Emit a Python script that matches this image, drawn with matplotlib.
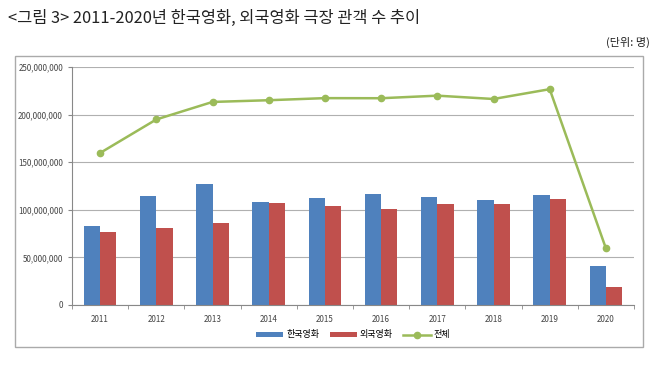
import numpy as np
import matplotlib.pyplot as plt
from matplotlib.patches import Rectangle
from matplotlib.ticker import FuncFormatter

plt.rcParams['font.family'] = ['Noto Sans CJK KR', 'DejaVu Sans']

years = ['2011', '2012', '2013', '2014', '2015', '2016', '2017', '2018', '2019', '2020']
korean = [82.9, 114.6, 127.2, 107.7, 112.9, 116.6, 113.9, 110.2, 115.6, 40.5]
foreign = [77.1, 80.9, 86.1, 107.4, 104.4, 100.6, 105.9, 106.1, 111.1, 19.0]
total = [159.7, 194.9, 213.3, 215.1, 217.3, 217.2, 219.9, 216.4, 226.7, 59.5]

kor = np.array(korean) * 1e6
fgn = np.array(foreign) * 1e6
tot = np.array(total) * 1e6
x = np.arange(len(years))

fig = plt.figure(figsize=(6.6, 3.65), dpi=100)
fig.text(8/660, 1 - 18/365, '<그림 3> 2011-2020년 한국영화, 외국영화 극장 관객 수 추이',
         fontsize=11.8, va='center', ha='left', color='#222222')
fig.text(650/660, 1 - 42/365, '(단위: 명)', fontsize=8, va='center', ha='right', color='#222222')
fig.patches.append(Rectangle((15/660, 1 - 347/365), 628/660, 291/365, transform=fig.transFigure,
                             fill=False, edgecolor='#aaaaaa', linewidth=1))

ax = fig.add_axes([72/660, 1 - 305/365, 562/660, 238/365])
w = 0.29
b1 = ax.bar(x - w/2, kor, w, color='#4F81BD', label='한국영화', zorder=2)
b2 = ax.bar(x + w/2, fgn, w, color='#C0504D', label='외국영화', zorder=2)
l1, = ax.plot(x, tot, color='#9BBB59', marker='o', markersize=4.5, linewidth=1.8, label='전체', zorder=3)

ax.set_xlim(-0.5, 9.5)
ax.set_ylim(0, 250e6)
ax.set_yticks(np.arange(0, 250e6 + 1, 50e6))
ax.yaxis.set_major_formatter(FuncFormatter(lambda v, p: f'{int(v):,}'))
ax.yaxis.grid(True, color='#b0b0b0', linewidth=0.8, zorder=0)
ax.set_axisbelow(True)
ax.set_xticks(x)
ax.set_xticklabels(years)
ax.set_xticks(np.arange(-0.5, 10, 1), minor=True)
ax.tick_params(axis='x', which='major', length=0, labelsize=5.8, colors='#444444', pad=7)
ax.tick_params(axis='x', which='minor', length=3, color='#888888')
ax.tick_params(axis='y', length=3, color='#888888', labelsize=5.8, labelcolor='#444444')
for s in ['top', 'right']:
    ax.spines[s].set_visible(False)
ax.spines['left'].set_color('#888888')
ax.spines['bottom'].set_color('#888888')

ax.legend(handles=[b1, b2, l1], loc='center', bbox_to_anchor=(0.5, -30/238), ncol=3, frameon=False,
          fontsize=6.5, handlelength=3, handleheight=0.4, columnspacing=1.2, handletextpad=0.3,
          bbox_transform=ax.transAxes)

fig.savefig('out.png', dpi=100)
